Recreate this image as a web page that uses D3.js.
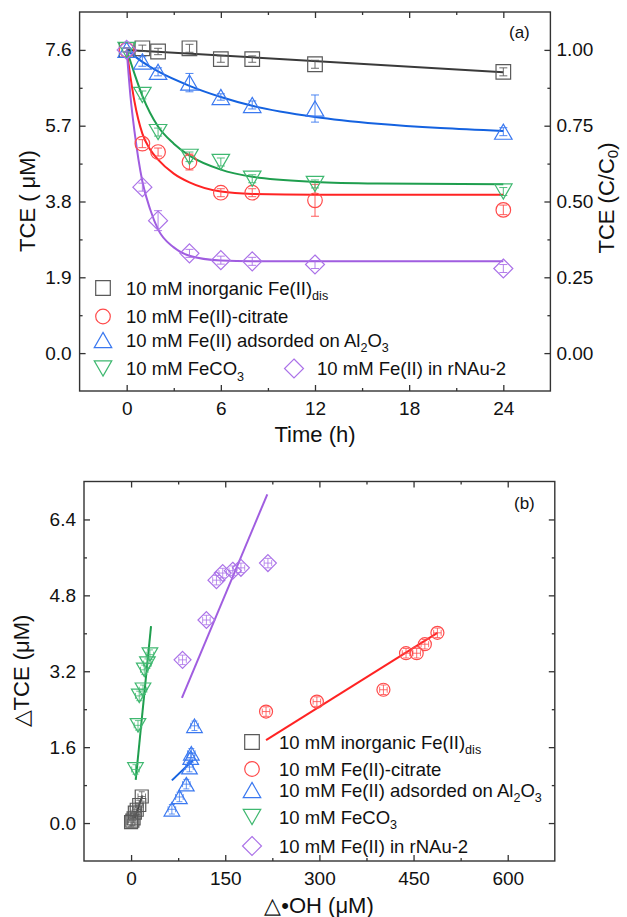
<!DOCTYPE html>
<html>
<head>
<meta charset="utf-8">
<script src="https://cdn.jsdelivr.net/npm/d3@7"></script>
<style>
  body { margin: 0; background: #fff; }
  svg text { font-family: "Liberation Sans", Arial, sans-serif; fill: #111; }
</style>
</head>
<body>
<script>
// ---------- panel (a): TCE vs time ----------
const timeH = [0, 1, 2, 4, 6, 8, 12, 24];
const tceInorganic = [7.6, 7.64, 7.56, 7.64, 7.37, 7.37, 7.24, 7.05];
const tceCitrate   = [7.6, 5.25, 5.04, 4.79, 4.02, 4.02, 3.83, 3.59];
const tceAl2O3     = [7.6, 7.31, 7.05, 6.78, 6.42, 6.22, 6.13, 5.55];
const tceFeCO3     = [7.6, 6.47, 5.54, 4.92, 4.79, 4.37, 4.24, 4.05];
const tceRNAu      = [7.6, 4.16, 3.32, 2.50, 2.33, 2.30, 2.22, 2.12];

const errInorganic = [0.05, 0.08, 0.08, 0.10, 0.08, 0.08, 0.10, 0.10];
const errCitrate   = [0.05, 0.10, 0.10, 0.20, 0.10, 0.10, 0.40, 0.12];
const errAl2O3     = [0.05, 0.12, 0.10, 0.23, 0.08, 0.10, 0.34, 0.10];
const errFeCO3     = [0.05, 0.10, 0.10, 0.12, 0.10, 0.10, 0.10, 0.10];
const errRNAu      = [0.05, 0.10, 0.25, 0.10, 0.10, 0.10, 0.10, 0.10];

// fitted curves
const fitTInorganic = [0, 24];
const fitInorganic  = [7.6, 7.04];
const fitTCitrate   = [0, 0.25, 0.5, 1, 1.5, 2, 3, 4, 6, 8, 12, 24];
const fitCitrate    = [7.6, 6.9, 6.3, 5.5, 5.1, 4.85, 4.5, 4.28, 4.05, 3.99, 3.97, 3.97];
const fitTAl2O3     = [0, 1, 2, 4, 6, 8, 12, 16, 20, 24];
const fitAl2O3      = [7.6, 7.3, 7.06, 6.7, 6.42, 6.2, 5.92, 5.75, 5.64, 5.57];
const fitTFeCO3     = [0, 0.5, 1, 2, 3, 4, 6, 8, 12, 16, 24];
const fitFeCO3      = [7.6, 7.0, 6.45, 5.68, 5.25, 4.95, 4.6, 4.42, 4.29, 4.25, 4.23];
const fitTRNAu      = [0, 0.25, 0.5, 1, 1.5, 2, 3, 4, 6, 8, 24];
const fitRNAu       = [7.6, 6.4, 5.55, 4.3, 3.6, 3.1, 2.65, 2.44, 2.32, 2.30, 2.30];

const tickTime = [0, 6, 12, 18, 24];
const tickTCE = [0, 1.9, 3.8, 5.7, 7.6];
const tickRatio = [0, 0.25, 0.5, 0.75, 1.0];

// ---------- panel (b): dTCE vs d*OH ----------
const ohInorganic = [0, 2, 4, 6, 9, 13, 17];
const dInorganic  = [0.02, 0.05, 0.10, 0.22, 0.28, 0.38, 0.56];
const ohCitrate   = [215, 296, 402, 438, 455, 468, 488];
const dCitrate    = [2.35, 2.56, 2.81, 3.58, 3.58, 3.77, 4.01];
const ohAl2O3     = [65, 77, 88, 93, 95, 96, 101];
const dAl2O3      = [0.29, 0.55, 0.82, 1.18, 1.38, 1.47, 2.05];
const ohFeCO3     = [7, 11, 13, 19, 21, 26, 30];
const dFeCO3      = [1.13, 2.06, 2.68, 2.81, 3.23, 3.36, 3.55];
const ohRNAu      = [82, 120, 136, 146, 162, 175, 218];
const dRNAu       = [3.44, 4.28, 5.12, 5.27, 5.32, 5.38, 5.48];

const fitOhInorganic = [6, 18],   fitDInorganic = [0.10, 0.58];
const fitOhCitrate   = [215, 488], fitDCitrate  = [1.75, 4.01];
const fitOhAl2O3     = [65, 99],  fitDAl2O3     = [0.90, 1.33];
const fitOhFeCO3     = [7.4, 31.8], fitDFeCO3   = [0.91, 4.15];
const fitOhRNAu      = [81, 217], fitDRNAu      = [2.64, 6.93];

const errOh = [6, 6, 6, 6, 6, 6, 6];
const errD  = [0.1, 0.1, 0.1, 0.1, 0.1, 0.1, 0.1];

const tickOH = [0, 150, 300, 450, 600];
const tickD = [0, 1.6, 3.2, 4.8, 6.4];

const labels = [
  [['10 mM inorganic Fe(II)'], ['dis', 1]],
  [['10 mM Fe(II)-citrate']],
  [['10 mM Fe(II) adsorded on Al'], ['2', 1], ['O'], ['3', 1]],
  [['10 mM FeCO'], ['3', 1]],
  [['10 mM Fe(II) in rNAu-2']]
];

const series = [
  { shape: 'square', mark: '#5a5a5a', line: '#3a3a3a', t: tceInorganic, e: errInorganic, ft: fitTInorganic, fv: fitInorganic, ox: ohInorganic, oy: dInorganic, fx: fitOhInorganic, fy: fitDInorganic },
  { shape: 'circle', mark: '#ff4a4a', line: '#ff2323', t: tceCitrate, e: errCitrate, ft: fitTCitrate, fv: fitCitrate, ox: ohCitrate, oy: dCitrate, fx: fitOhCitrate, fy: fitDCitrate },
  { shape: 'up', mark: '#3a78f0', line: '#1462e0', t: tceAl2O3, e: errAl2O3, ft: fitTAl2O3, fv: fitAl2O3, ox: ohAl2O3, oy: dAl2O3, fx: fitOhAl2O3, fy: fitDAl2O3 },
  { shape: 'down', mark: '#3fb870', line: '#1f9e4e', t: tceFeCO3, e: errFeCO3, ft: fitTFeCO3, fv: fitFeCO3, ox: ohFeCO3, oy: dFeCO3, fx: fitOhFeCO3, fy: fitDFeCO3 },
  { shape: 'diamond', mark: '#ab72e8', line: '#a05de0', t: tceRNAu, e: errRNAu, ft: fitTRNAu, fv: fitRNAu, ox: ohRNAu, oy: dRNAu, fx: fitOhRNAu, fy: fitDRNAu }
];

const svg = d3.select('body').append('svg').attr('width', 627).attr('height', 917);

const xA = d3.scaleLinear().domain([-3, 27]).range([79.6, 550.4]);
const yA = d3.scaleLinear().domain([-0.95, 8.55]).range([391, 12]);
const yA2 = d3.scaleLinear().domain([-0.95 / 7.6, 8.55 / 7.6]).range([391, 12]);
const xB = d3.scaleLinear().domain([-75, 675]).range([84, 554.8]);
const yB = d3.scaleLinear().domain([-0.8, 7.2]).range([861, 481.5]);

function marker(shape, s) {
  if (shape === 'square') return `M${-s},${-s}h${2 * s}v${2 * s}h${-2 * s}Z`;
  if (shape === 'circle') return `M${s},0A${s},${s} 0 1,1 ${-s},0A${s},${s} 0 1,1 ${s},0Z`;
  const w = s * 1.2, h = w * 1.732;
  if (shape === 'up') return `M0,${-h / 2}L${w},${h / 2}L${-w},${h / 2}Z`;
  if (shape === 'down') return `M0,${h / 2}L${w},${-h / 2}L${-w},${-h / 2}Z`;
  const d = s * 1.3;
  return `M0,${-d}L${d},0L0,${d}L${-d},0Z`;
}

function style(g) {
  g.attr('font-size', null).attr('font-family', null);
  g.select('.domain').remove();
  g.selectAll('line').attr('stroke', '#333').attr('stroke-width', 1.3);
  g.selectAll('text').style('font-size', '19px').attr('fill', '#111');
}

function box(x, y, xt, yt, yFmt, right, rt, rFmt) {
  const [x0, x1] = x.range();
  const [y0, y1] = y.range();
  const xStep = xt[1] - xt[0], yStep = yt[1] - yt[0];
  const xm = xt.map(v => v + xStep / 2).filter(v => x(v) < x1 - 1);
  const ym = yt.map(v => v + yStep / 2).filter(v => y(v) > y1 + 1);
  const g = svg.append('g');
  g.append('g').attr('transform', `translate(0,${y0})`)
    .call(d3.axisBottom(x).tickValues(xt).tickSizeInner(-6).tickSizeOuter(0).tickPadding(11).tickFormat(d3.format('d'))).call(style);
  g.append('g').attr('transform', `translate(0,${y0})`)
    .call(d3.axisBottom(x).tickValues(xm).tickSizeInner(-3).tickSizeOuter(0).tickFormat('')).call(style);
  g.append('g').attr('transform', `translate(0,${y1})`)
    .call(d3.axisTop(x).tickValues(xt).tickSizeInner(-6).tickSizeOuter(0).tickFormat('')).call(style);
  g.append('g').attr('transform', `translate(0,${y1})`)
    .call(d3.axisTop(x).tickValues(xm).tickSizeInner(-3).tickSizeOuter(0).tickFormat('')).call(style);
  g.append('g').attr('transform', `translate(${x0},0)`)
    .call(d3.axisLeft(y).tickValues(yt).tickSizeInner(-6).tickSizeOuter(0).tickPadding(8).tickFormat(yFmt)).call(style);
  g.append('g').attr('transform', `translate(${x0},0)`)
    .call(d3.axisLeft(y).tickValues(ym).tickSizeInner(-3).tickSizeOuter(0).tickFormat('')).call(style);
  const r = right || y;
  const rTicks = rt || yt;
  const rStep = rTicks[1] - rTicks[0];
  g.append('g').attr('transform', `translate(${x1},0)`)
    .call(d3.axisRight(r).tickValues(rTicks).tickSizeInner(-6).tickSizeOuter(0).tickPadding(6).tickFormat(rFmt || '')).call(style);
  g.append('g').attr('transform', `translate(${x1},0)`)
    .call(d3.axisRight(r).tickValues(rTicks.map(v => v + rStep / 2).filter(v => r(v) > y1 + 1)).tickSizeInner(-3).tickSizeOuter(0).tickFormat('')).call(style);
  g.append('rect').attr('x', x0).attr('y', y1).attr('width', x1 - x0).attr('height', y0 - y1)
    .attr('fill', 'none').attr('stroke', '#333').attr('stroke-width', 1.4);
}

function rich(g, x, y, parts, size) {
  const t = g.append('text').attr('x', x).attr('y', y).style('font-size', size + 'px');
  let sub = false;
  parts.forEach(p => {
    const ts = t.append('tspan').text(p[0]);
    if (p[1]) {
      ts.style('font-size', (size * 0.68) + 'px');
      if (!sub) ts.attr('dy', size * 0.3);
    } else if (sub) ts.attr('dy', -size * 0.3);
    sub = !!p[1];
  });
  return t;
}

// ---------- draw panel (a) ----------
box(xA, yA, tickTime, tickTCE, d3.format('.1f'), yA2, tickRatio, d3.format('.2f'));

const gA = svg.append('g');
series.forEach(s => {
  const pts = s.ft.map((t, i) => [t, s.fv[i]]);
  gA.append('path').datum(pts)
    .attr('d', d3.line().x(d => xA(d[0])).y(d => yA(d[1])).curve(d3.curveMonotoneX))
    .attr('fill', 'none').attr('stroke', s.line).attr('stroke-width', 2);
});
series.forEach(s => {
  const g = gA.append('g').attr('stroke', s.mark).attr('fill', 'none').attr('stroke-width', 1.2);
  timeH.forEach((t, i) => {
    const cx = xA(t), cy = yA(s.t[i]);
    const lo = yA(s.t[i] - s.e[i]), hi = yA(s.t[i] + s.e[i]);
    g.append('path').attr('d', `M${cx},${lo}V${hi}M${cx - 4},${lo}h8M${cx - 4},${hi}h8`).attr('stroke-width', 0.9);
    g.append('path').attr('transform', `translate(${cx},${cy})`).attr('d', marker(s.shape, 7.3));
  });
});

// legend (a)
const legA = svg.append('g');
const rowsA = [[103, 288], [103, 316.5], [103, 340], [103, 368.5], [294, 368.5]];
series.forEach((s, i) => {
  const [lx, ly] = rowsA[i];
  legA.append('path').attr('transform', `translate(${lx},${ly})`).attr('d', marker(s.shape, 7.3))
    .attr('fill', 'none').attr('stroke', s.mark).attr('stroke-width', 1.2);
  rich(legA, lx + 23, ly + 6.5, labels[i], 18.5);
});

svg.append('text').attr('x', 509).attr('y', 38).style('font-size', '17px').text('(a)');
svg.append('text').attr('x', 315).attr('y', 442).attr('text-anchor', 'middle').style('font-size', '22px').text('Time (h)');
svg.append('text').attr('transform', 'translate(35,201) rotate(-90)').attr('text-anchor', 'middle')
  .style('font-size', '22px').text('TCE ( μM)');
const rl = svg.append('text').attr('transform', 'translate(614,198) rotate(-90)').attr('text-anchor', 'middle')
  .style('font-size', '22px');
rl.append('tspan').text('TCE (C/C');
rl.append('tspan').attr('dy', 4).style('font-size', '15px').text('0');
rl.append('tspan').attr('dy', -4).text(')');

// ---------- draw panel (b) ----------
box(xB, yB, tickOH, tickD, d3.format('.1f'));

const gB = svg.append('g');
series.forEach(s => {
  gB.append('line')
    .attr('x1', xB(s.fx[0])).attr('y1', yB(s.fy[0]))
    .attr('x2', xB(s.fx[1])).attr('y2', yB(s.fy[1]))
    .attr('stroke', s.line).attr('stroke-width', 2);
});
series.forEach(s => {
  const g = gB.append('g').attr('stroke', s.mark).attr('fill', 'none').attr('stroke-width', 1.2);
  s.ox.forEach((o, i) => {
    const cx = xB(o), cy = yB(s.oy[i]);
    const l = xB(o - errOh[i]), r = xB(o + errOh[i]);
    const lo = yB(s.oy[i] - errD[i]), hi = yB(s.oy[i] + errD[i]);
    g.append('path').attr('stroke-width', 0.8)
      .attr('d', `M${cx},${lo}V${hi}M${cx - 3},${lo}h6M${cx - 3},${hi}h6M${l},${cy}H${r}M${l},${cy - 3}v6M${r},${cy - 3}v6`);
    g.append('path').attr('transform', `translate(${cx},${cy})`).attr('d', marker(s.shape, 6.5));
  });
});

const legB = svg.append('g');
const rowsB = [742, 769, 790, 817, 846];
series.forEach((s, i) => {
  legB.append('path').attr('transform', `translate(252,${rowsB[i]})`).attr('d', marker(s.shape, 7.3))
    .attr('fill', 'none').attr('stroke', s.mark).attr('stroke-width', 1.2);
  rich(legB, 279, rowsB[i] + 6.5, labels[i], 18.5);
});

svg.append('text').attr('x', 514).attr('y', 509).style('font-size', '17px').text('(b)');
svg.append('text').attr('x', 319).attr('y', 913).attr('text-anchor', 'middle').style('font-size', '22px').text('△•OH (μM)');
svg.append('text').attr('transform', 'translate(29,671) rotate(-90)').attr('text-anchor', 'middle')
  .style('font-size', '22px').text('△TCE (μM)');
</script>
</body>
</html>
